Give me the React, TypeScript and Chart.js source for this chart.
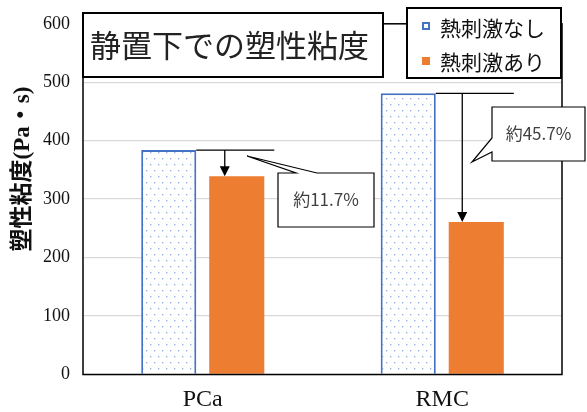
import React, { useEffect, useRef } from "react";
import { Chart, registerables } from "chart.js";

Chart.register(...registerables);

// Plastic viscosity at rest, with and without thermal stimulation
const categories = ["PCa", "RMC"];
const seriesLabels = ["熱刺激なし", "熱刺激あり"];
const withoutStimulus = [384, 481];
const withStimulus = [339, 261];
const reductionLabels = ["約11.7%", "約45.7%"];
const yTicks = [0, 100, 200, 300, 400, 500, 600];

const chartTitle = "静置下での塑性粘度";
const yAxisTitle = "塑性粘度(Pa・s)";

const BLUE = "#4472C4";
const ORANGE = "#ED7D31";
const CJK = '"Noto Sans CJK JP", "Noto Sans", sans-serif';
const SERIF = '"Liberation Serif", "Noto Sans CJK JP", serif';

function makeDotPattern(): CanvasPattern | string {
  const c = document.createElement("canvas");
  c.width = 8;
  c.height = 12;
  const g = c.getContext("2d");
  if (!g) return "#ffffff";
  g.fillStyle = "#ffffff";
  g.fillRect(0, 0, 8, 12);
  g.fillStyle = "#8FAADC";
  g.fillRect(2, 2, 1.3, 1.3);
  g.fillRect(6, 8, 1.3, 1.3);
  return g.createPattern(c, "repeat") || "#ffffff";
}

function arrowDown(ctx: CanvasRenderingContext2D, x: number, y0: number, y1: number) {
  ctx.beginPath();
  ctx.moveTo(x, y0);
  ctx.lineTo(x, y1 - 8);
  ctx.stroke();
  ctx.beginPath();
  ctx.moveTo(x - 5, y1 - 10);
  ctx.lineTo(x + 5, y1 - 10);
  ctx.lineTo(x, y1);
  ctx.closePath();
  ctx.fill();
}

const overlayPlugin = {
  id: "overlay",
  afterDraw(chart: any) {
    const ctx: CanvasRenderingContext2D = chart.ctx;
    const area = chart.chartArea;
    ctx.save();

    // plot frame
    ctx.strokeStyle = "#000";
    ctx.lineWidth = 1.5;
    ctx.strokeRect(area.left, area.top, area.right - area.left, area.bottom - area.top);

    // reduction markers: level line from the unstimulated bar and arrow down to the stimulated bar
    const metaA = chart.getDatasetMeta(0);
    const metaB = chart.getDatasetMeta(1);
    ctx.lineWidth = 1.3;
    ctx.fillStyle = "#000";
    const arrowOffsets = [12, 14];
    for (let i = 0; i < categories.length; i++) {
      const a = metaA.data[i];
      const b = metaB.data[i];
      const leftEdge = a.x + a.width / 2;
      const rightEnd = b.x + b.width / 2 + 10;
      ctx.beginPath();
      ctx.moveTo(leftEdge, a.y);
      ctx.lineTo(rightEnd, a.y);
      ctx.stroke();
      arrowDown(ctx, b.x - arrowOffsets[i], a.y, b.y);
    }

    // callout boxes
    ctx.lineWidth = 1.2;
    ctx.strokeStyle = "#000";
    // PCa callout, pointer on top edge
    {
      const bx = 278, by = 173, bw = 96, bh = 54;
      ctx.beginPath();
      ctx.moveTo(bx, by);
      ctx.lineTo(296, by);
      ctx.lineTo(247, 156);
      ctx.lineTo(317, by);
      ctx.lineTo(bx + bw, by);
      ctx.lineTo(bx + bw, by + bh);
      ctx.lineTo(bx, by + bh);
      ctx.closePath();
      ctx.fillStyle = "#fff";
      ctx.fill();
      ctx.stroke();
      ctx.fillStyle = "#404040";
      ctx.font = `17px ${CJK}`;
      ctx.textAlign = "center";
      ctx.textBaseline = "middle";
      ctx.fillText(reductionLabels[0], bx + bw / 2, by + bh / 2);
    }
    // RMC callout, pointer on left edge
    {
      const bx = 492, by = 107, bw = 93, bh = 54;
      ctx.beginPath();
      ctx.moveTo(bx, by);
      ctx.lineTo(bx + bw, by);
      ctx.lineTo(bx + bw, by + bh);
      ctx.lineTo(bx, by + bh);
      ctx.lineTo(bx, 152);
      ctx.lineTo(472, 162);
      ctx.lineTo(bx, 138);
      ctx.closePath();
      ctx.fillStyle = "#fff";
      ctx.fill();
      ctx.stroke();
      ctx.fillStyle = "#404040";
      ctx.font = `17px ${CJK}`;
      ctx.textAlign = "center";
      ctx.textBaseline = "middle";
      ctx.fillText(reductionLabels[1], bx + bw / 2, by + bh / 2);
    }

    // title box
    ctx.lineWidth = 2;
    ctx.strokeStyle = "#000";
    ctx.fillStyle = "#fff";
    ctx.fillRect(area.left, 13, 300, 64);
    ctx.strokeRect(area.left, 13, 300, 64);
    ctx.fillStyle = "#222";
    ctx.font = `31px ${CJK}`;
    ctx.textAlign = "left";
    ctx.textBaseline = "middle";
    ctx.fillText(chartTitle, 90, 45);

    // legend box
    ctx.fillStyle = "#fff";
    ctx.fillRect(407, 8, 154, 70);
    ctx.strokeRect(407, 8, 154, 70);
    ctx.font = `21px ${CJK}`;
    ctx.fillStyle = "#111";
    ctx.fillText(seriesLabels[0], 440, 28);
    ctx.fillText(seriesLabels[1], 440, 62);
    ctx.strokeStyle = BLUE;
    ctx.lineWidth = 2;
    ctx.fillStyle = "#fff";
    ctx.fillRect(423, 23, 6, 6);
    ctx.strokeRect(423, 23, 6, 6);
    ctx.fillStyle = ORANGE;
    ctx.fillRect(422, 57, 8, 8);

    // y-axis title
    ctx.save();
    ctx.translate(23, 169);
    ctx.rotate(-Math.PI / 2);
    ctx.fillStyle = "#111";
    ctx.font = `bold 23px ${SERIF}`;
    ctx.textAlign = "center";
    ctx.textBaseline = "middle";
    ctx.fillText(yAxisTitle, 0, 0);
    ctx.restore();

    ctx.restore();
  },
};

export default function App() {
  const canvasRef = useRef<HTMLCanvasElement | null>(null);

  useEffect(() => {
    document.body.style.margin = "0";
    const canvas = canvasRef.current;
    if (!canvas) return;
    const pattern = makeDotPattern();
    const chart = new Chart(canvas, {
      type: "bar",
      data: {
        labels: categories,
        datasets: [
          {
            label: seriesLabels[0],
            data: withoutStimulus,
            backgroundColor: pattern as any,
            borderColor: BLUE,
            borderWidth: 2,
          },
          {
            label: seriesLabels[1],
            data: withStimulus,
            backgroundColor: ORANGE,
            borderWidth: 0,
          },
        ],
      },
      options: {
        animation: false,
        responsive: false,
        maintainAspectRatio: false,
        layout: { padding: { top: 20, right: 25, left: 0, bottom: 0 } },
        datasets: {
          bar: { categoryPercentage: 0.568, barPercentage: 0.81 },
        },
        plugins: {
          legend: { display: false },
          title: { display: false },
          tooltip: { enabled: false },
        },
        scales: {
          x: {
            grid: { display: false, drawTicks: false },
            border: { display: false },
            ticks: {
              color: "#111",
              padding: 11,
              font: { family: "Liberation Serif", size: 24 },
            },
            afterFit(scale: any) {
              scale.height = 37.5;
            },
          },
          y: {
            min: 0,
            max: 600,
            afterBuildTicks(scale: any) {
              scale.ticks = yTicks.map((v) => ({ value: v }));
            },
            grid: { color: "#d9d9d9", lineWidth: 1.3, drawTicks: false },
            border: { display: false },
            ticks: {
              color: "#111",
              padding: 13,
              font: { family: "Liberation Serif", size: 18 },
            },
            afterFit(scale: any) {
              scale.width = 83;
            },
          },
        },
      },
      plugins: [overlayPlugin],
    });
    return () => chart.destroy();
  }, []);

  return (
    <div style={{ position: "absolute", left: 0, top: 0, width: 587, height: 412 }}>
      <canvas ref={canvasRef} width={587} height={412} />
    </div>
  );
}
